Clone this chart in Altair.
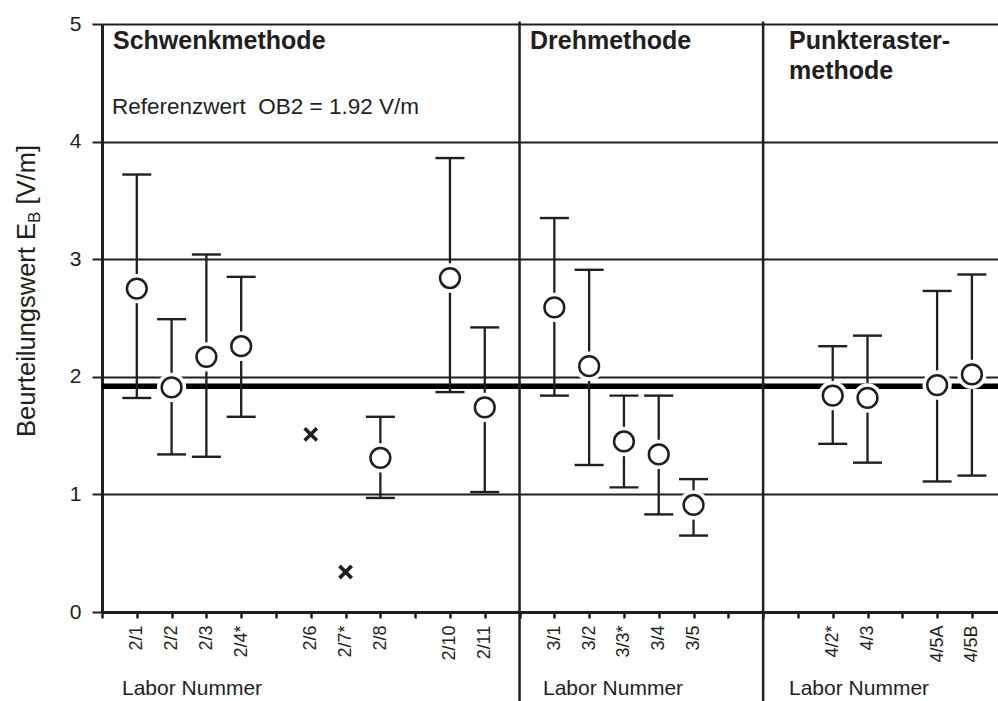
import altair as alt
import pandas as pd

# ---------------- data ----------------
# one slot per position on the x axis ("" = empty slot, "|" = method separator)
slot_labels = ["", "2/1", "2/2", "2/3", "2/4*", "", "2/6", "2/7*", "2/8", "", "2/10", "2/11", "|",
               "3/1", "3/2", "3/3*", "3/4", "3/5", "", "|", "", "4/2*", "4/3", "", "4/5A", "4/5B"]

labs = ["2/1", "2/2", "2/3", "2/4*", "2/8", "2/10", "2/11",
        "3/1", "3/2", "3/3*", "3/4", "3/5",
        "4/2*", "4/3", "4/5A", "4/5B"]
mean_vals = [2.75, 1.91, 2.17, 2.26, 1.31, 2.84, 1.74,
             2.59, 2.09, 1.45, 1.34, 0.91,
             1.84, 1.82, 1.93, 2.02]
upper_vals = [3.72, 2.49, 3.04, 2.85, 1.66, 3.86, 2.42,
              3.35, 2.91, 1.84, 1.84, 1.13,
              2.26, 2.35, 2.73, 2.87]
lower_vals = [1.82, 1.34, 1.32, 1.66, 0.97, 1.87, 1.02,
              1.84, 1.25, 1.06, 0.83, 0.65,
              1.43, 1.27, 1.11, 1.16]

excluded_labs = ["2/6", "2/7*"]
excluded_vals = [1.51, 0.34]

ref_value = 1.92
ref_text = "Referenzwert\u00a0 OB2 = 1.92 V/m"
group_titles = ["Schwenkmethode", "Drehmethode", "Punkteraster-", "methode"]
x_word = "Labor Nummer"
y_title_parts = ["Beurteilungswert E", "B", "[V/m]"]

# ---------------- derived tables ----------------
slot_of = {lab: i for i, lab in enumerate(slot_labels) if lab not in ("", "|")}
sep_slots = [i for i, lab in enumerate(slot_labels) if lab == "|"]

df = pd.DataFrame({"lab": labs, "slot": [slot_of[l] for l in labs],
                   "mean": mean_vals, "lo": lower_vals, "hi": upper_vals})
df_x = pd.DataFrame({"lab": excluded_labs, "slot": [slot_of[l] for l in excluded_labs],
                     "val": excluded_vals})
df_sep = pd.DataFrame({"slot": sep_slots})

INK = "#221e1f"
FONT = "Liberation Sans"

js_arr = "[" + ",".join("'" + ("" if s == "|" else s) + "'" for s in slot_labels) + "]"

x_axis = alt.Axis(values=list(range(len(slot_labels))), labelExpr=js_arr + "[datum.value]",
                  labelAngle=-90, labelFontSize=18, labelFont=FONT, labelColor=INK,
                  labelPadding=7, labelOverlap=False, labelFlush=False,
                  tickSize=6, tickWidth=2.5, tickColor=INK,
                  domainColor=INK, domainWidth=3, grid=False, title=None)
x_scale = alt.Scale(domain=[0, 25.75], nice=False, zero=False)

y_axis = alt.Axis(values=[0, 1, 2, 3, 4, 5], grid=True, gridColor=INK, gridWidth=2, gridOpacity=1,
                  tickSize=10, tickWidth=2, tickColor=INK, domainColor=INK, domainWidth=3,
                  labelFontSize=21, labelFont=FONT, labelColor=INK, labelPadding=11,
                  labelFlush=False, title=None)
y_scale = alt.Scale(domain=[0, 5], nice=False, zero=True)


def X():
    return alt.X("slot:Q", scale=x_scale, axis=x_axis)


def Y(field):
    return alt.Y(f"{field}:Q", scale=y_scale, axis=y_axis)


bars = alt.Chart(df).mark_rule(color=INK, strokeWidth=2.3).encode(x=X(), y=Y("lo"), y2="hi:Q")
cap_hi = alt.Chart(df).mark_tick(orient="horizontal", size=29, thickness=2.4, color=INK, opacity=1).encode(
    x=X(), y=Y("hi"))
cap_lo = alt.Chart(df).mark_tick(orient="horizontal", size=29, thickness=2.4, color=INK, opacity=1).encode(
    x=X(), y=Y("lo"))

ref_line = alt.Chart(pd.DataFrame({"v": [ref_value]})).mark_rule(color="black", strokeWidth=5.5).encode(
    y=Y("v"))

seps = alt.Chart(df_sep).mark_rule(color=INK, strokeWidth=2.5).encode(
    x=X(), y=alt.value(-2.5), y2=alt.value(677))

halo = alt.Chart(df).mark_point(shape="circle", filled=True, color="white", size=860, opacity=1).encode(
    x=X(), y=Y("mean"))
circles = alt.Chart(df).mark_point(shape="circle", filled=True, fill="white", stroke=INK,
                                   strokeWidth=2.5, size=390, opacity=1).encode(x=X(), y=Y("mean"))
crosses = alt.Chart(df_x).mark_point(shape="M-1,-1L1,1M-1,1L1,-1", filled=False, stroke=INK,
                                     strokeWidth=3.6, size=150, opacity=1).encode(x=X(), y=Y("val"))


def txt(t, x, y, size, bold=False, angle=0, baseline="alphabetic"):
    return alt.Chart(pd.DataFrame({"t": [t]})).mark_text(
        font=FONT, fontSize=size, fontWeight="bold" if bold else "normal", color=INK,
        align="left", baseline=baseline, angle=angle).encode(
        text="t:N", x=alt.value(x), y=alt.value(y))


texts = [
    txt(group_titles[0], 11, 25, 25, bold=True),
    txt(group_titles[1], 428, 25, 25, bold=True),
    txt(group_titles[2], 687, 25, 25, bold=True),
    txt(group_titles[3], 687, 55, 25, bold=True),
    txt(ref_text, 10, 90, 22.5),
    txt(x_word, 20, 671, 21),
    txt(x_word, 441, 671, 21),
    txt(x_word, 687, 671, 21),
    txt(y_title_parts[0], -67.5, 413, 25.5, angle=270),
    txt(y_title_parts[1], -62.5, 199, 17, angle=270),
    txt(y_title_parts[2], -67.5, 180.5, 25.5, angle=270),
]

chart = alt.layer(ref_line, seps, bars, cap_hi, cap_lo, halo, circles, crosses, *texts).properties(
    width=896, height=588,
    padding={"left": 102, "top": 24, "right": 0, "bottom": 89},
    autosize=alt.AutoSizeParams(type="none"),
).configure_view(stroke=None).configure(background="white")

chart.save("out.html", embed_options={"renderer": "svg", "actions": False})
